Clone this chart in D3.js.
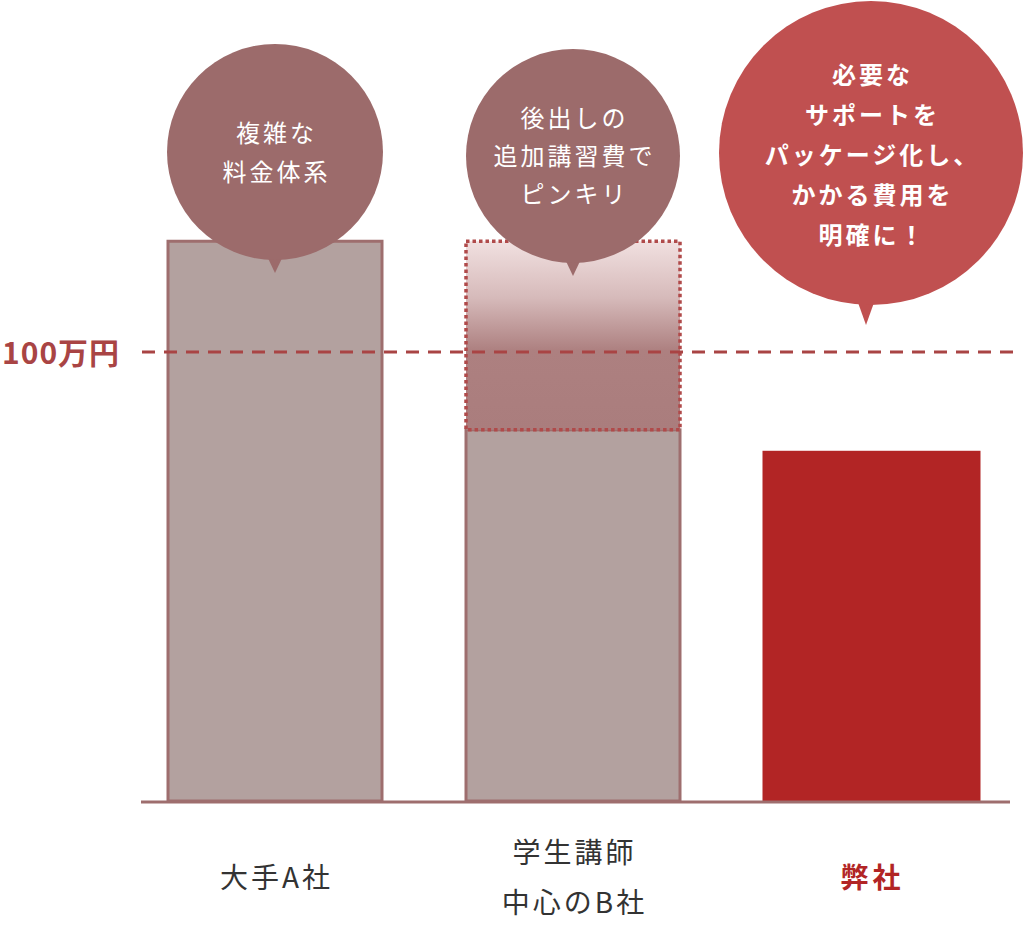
<!DOCTYPE html>
<html lang="ja">
<head>
<meta charset="utf-8">
<script src="https://cdn.jsdelivr.net/npm/d3@7"></script>
<style>
  * { margin: 0; padding: 0; }
  body { background: #fff; width: 1024px; height: 932px; overflow: hidden; }
  svg { font-family: "Noto Sans CJK JP", "Noto Sans", sans-serif; display: block; }
</style>
</head>
<body>
<svg id="chart" width="1024" height="932"></svg>
<script>
// データ
var companies = ["大手A社", "学生講師\n中心のB社", "弊社"];
var baseCost  = [125, 83, 78];   // 万円
var extraCost = [0, 42, 0];      // 後出しの追加費用（B社のみ）
var refValue  = 100;
var refLabel  = "100万円";
var bubbleText = [
  ["複雑な", "料金体系"],
  ["後出しの", "追加講習費で", "ピンキリ"],
  ["必要な", "サポートを", "パッケージ化し、", "かかる費用を", "明確に！"]
];

var svg = d3.select("#chart");
var W = 1024, H = 932;
var baseY = 801;

var x = d3.scalePoint().domain(companies).range([275, 871]);
var y = d3.scaleLinear().domain([0, refValue]).range([baseY, 352]);
var barW = 217;

var greyFill = "#b3a19f", greyLine = "#9e6e6e", red = "#b22525", refColor = "#a94444";

var defs = svg.append("defs");
var grad = defs.append("linearGradient").attr("id", "extraGrad")
  .attr("x1", 0).attr("y1", 0).attr("x2", 0).attr("y2", 1);
grad.append("stop").attr("offset", "0%").attr("stop-color", "#f1e0e0");
grad.append("stop").attr("offset", "30%").attr("stop-color", "#d6baba");
grad.append("stop").attr("offset", "58%").attr("stop-color", "#ad8080");
grad.append("stop").attr("offset", "100%").attr("stop-color", "#aa7d7d");

// 棒
companies.forEach(function(c, i) {
  var cx = x(c);
  var top = y(baseCost[i]);
  if (i < 2) {
    svg.append("rect")
      .attr("x", cx - barW / 2 + 1.5).attr("y", top + 1.5)
      .attr("width", barW - 3).attr("height", baseY - top - 1.5)
      .attr("fill", greyFill).attr("stroke", greyLine).attr("stroke-width", 3);
  } else {
    svg.append("rect")
      .attr("x", cx - barW / 2).attr("y", top)
      .attr("width", barW + 1).attr("height", baseY - top)
      .attr("fill", red);
  }
  if (extraCost[i] > 0) {
    var t2 = y(baseCost[i] + extraCost[i]);
    svg.append("rect")
      .attr("x", cx - barW / 2 + 1.5).attr("y", t2 + 1.5)
      .attr("width", barW - 3).attr("height", top - t2)
      .attr("fill", "url(#extraGrad)")
      .attr("stroke", "#b04a4a").attr("stroke-width", 3.5)
      .attr("stroke-dasharray", "3.5 3");
  }
});

// 基準線
svg.append("line")
  .attr("x1", 142).attr("x2", W - 8)
  .attr("y1", y(refValue)).attr("y2", y(refValue))
  .attr("stroke", refColor).attr("stroke-width", 3)
  .attr("stroke-dasharray", "13 9");
svg.append("text")
  .attr("x", 2).attr("y", y(refValue) + 4)
  .attr("dominant-baseline", "middle")
  .attr("font-size", 30).attr("font-weight", 700)
  .attr("letter-spacing", 1)
  .attr("fill", refColor).text(refLabel);

// 軸
svg.append("line")
  .attr("x1", 141).attr("x2", 1010)
  .attr("y1", baseY + 1).attr("y2", baseY + 1)
  .attr("stroke", greyLine).attr("stroke-width", 3);

// 吹き出し
var bubbles = [
  { cy: 152, r: 108, tip: 273, fill: "#9c6b6b", ty: 155, fs: 24, lh: 39, bold: 400, ls: 3 },
  { cy: 156, r: 107, tip: 276, fill: "#9c6b6b", ty: 158, fs: 24, lh: 38, bold: 400, ls: 3 },
  { cy: 153, r: 152, tip: 325, fill: "#c05050", ty: 157, fs: 24, lh: 40, bold: 700, ls: 3 }
];
bubbles.forEach(function(b, i) {
  var cx = x(companies[i]);
  var tipX = i === 2 ? cx - 5 : cx;
  var g = svg.append("g");
  g.append("path")
    .attr("d", "M" + (tipX - 10) + "," + (b.cy + b.r - 8) +
               "L" + (tipX + 10) + "," + (b.cy + b.r - 8) +
               "L" + tipX + "," + b.tip + "Z")
    .attr("fill", b.fill);
  g.append("circle").attr("cx", cx).attr("cy", b.cy).attr("r", b.r).attr("fill", b.fill);
  var lines = bubbleText[i];
  var y0 = b.ty - (lines.length - 1) * b.lh / 2;
  lines.forEach(function(l, k) {
    g.append("text")
      .attr("x", cx + b.ls / 2).attr("y", y0 + k * b.lh)
      .attr("text-anchor", "middle").attr("dominant-baseline", "middle")
      .attr("font-size", b.fs).attr("font-weight", b.bold)
      .attr("letter-spacing", b.ls)
      .attr("fill", "#fff").text(l);
  });
});

// カテゴリ名
companies.forEach(function(c, i) {
  var parts = c.split("\n");
  var lh = 50;
  var y0 = 880 - (parts.length - 1) * lh / 2;
  parts.forEach(function(p, k) {
    svg.append("text")
      .attr("x", x(c) + 1.5).attr("y", y0 + k * lh)
      .attr("text-anchor", "middle").attr("dominant-baseline", "middle")
      .attr("font-size", 28).attr("letter-spacing", i === 2 ? 4 : 3)
      .attr("font-weight", i === 2 ? 700 : 400)
      .attr("fill", i === 2 ? red : "#333")
      .text(p);
  });
});
</script>
</body>
</html>
